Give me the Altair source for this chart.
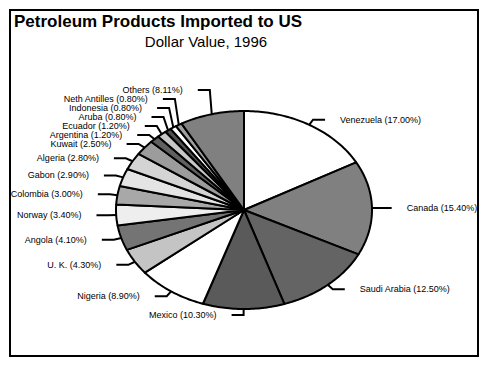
import altair as alt
import numpy as np
import pandas as pd

countries = ["Venezuela", "Canada", "Saudi Arabia", "Mexico", "Nigeria", "U. K.",
             "Angola", "Norway", "Colombia", "Gabon", "Algeria", "Kuwait",
             "Argentina", "Ecuador", "Aruba", "Indonesia", "Neth Antilles", "Others"]
shares = [17.00, 15.40, 12.50, 10.30, 8.90, 4.30, 4.10, 3.40, 3.00, 2.90, 2.80, 2.50,
          1.20, 1.20, 0.80, 0.80, 0.80, 8.11]
fills = ["#ffffff", "#808080", "#646464", "#5a5a5a", "#ffffff", "#c4c4c4",
         "#747474", "#eeeeee", "#a8a8a8", "#e4e4e4", "#d4d4d4", "#9c9c9c",
         "#606060", "#c8c8c8", "#505050", "#ffffff", "#a0a0a0", "#808080"]

title_text = "Petroleum Products Imported to US"
subtitle_text = "Dollar Value, 1996"

# layout constants (pixels)
W, H, PAD = 468, 346, 2
CX, CY = 234, 200          # pie centre in view pixels
RX, RY = 128, 99           # ellipse radii in pixels
GAP_PX = 9                 # min vertical gap between stacked labels
HSEG_PX = 12               # horizontal leader length
TGAP_PX = 15               # leader end -> text

xdom = [-CX / RX, (W - CX) / RX]
ydom = [-(H - CY) / RY, CY / RY]

vals = np.array(shares, dtype=float)
total = vals.sum()
cum = np.concatenate([[0], np.cumsum(vals)]) / total * 2 * np.pi

# slice polygons
rows = []
for i, name in enumerate(countries):
    a0, a1 = cum[i], cum[i + 1]
    n = max(3, int(np.degrees(a1 - a0)) + 1)
    k = 0
    rows.append({"slice": name, "k": k, "x": 0.0, "y": 0.0}); k += 1
    for a in np.linspace(a0, a1, n):
        rows.append({"slice": name, "k": k, "x": np.sin(a), "y": np.cos(a)}); k += 1
    rows.append({"slice": name, "k": k, "x": 0.0, "y": 0.0})
poly = pd.DataFrame(rows)

# label layout
mid = (cum[:-1] + cum[1:]) / 2
side = np.where(np.sin(mid) < 0, "L", "R")
ly = 1.06 * np.cos(mid)
gap = GAP_PX / RY
for s in ["L", "R"]:
    idx = [i for i in range(len(countries)) if side[i] == s]
    idx.sort(key=lambda i: ly[i])
    prev = None
    for i in idx:
        if prev is not None and ly[i] < prev + gap:
            ly[i] = prev + gap
        prev = ly[i]

lead_rows, text_rows = [], []
for i, name in enumerate(countries):
    ex, ey = np.sin(mid[i]), np.cos(mid[i])
    bx = 1.06 * ex
    sgn = -1 if side[i] == "L" else 1
    hx = bx + sgn * HSEG_PX / RX
    lead_rows += [{"slice": name, "k": 0, "x": ex, "y": ey},
                  {"slice": name, "k": 1, "x": bx, "y": ly[i]},
                  {"slice": name, "k": 2, "x": hx, "y": ly[i]}]
    text_rows.append({"label": f"{name} ({shares[i]:.2f}%)",
                      "x": hx + sgn * TGAP_PX / RX, "y": ly[i], "side": side[i]})
leads = pd.DataFrame(lead_rows)
texts = pd.DataFrame(text_rows)

xs = alt.Scale(domain=xdom, nice=False, zero=False)
ys = alt.Scale(domain=ydom, nice=False, zero=False)

pie = alt.Chart(poly).mark_line(stroke="black", strokeWidth=2, strokeJoin="round").encode(
    x=alt.X("x:Q", scale=xs, axis=None),
    y=alt.Y("y:Q", scale=ys, axis=None),
    detail="slice:N",
    order=alt.Order("k:Q"),
    fill=alt.Fill("slice:N", scale=alt.Scale(domain=countries, range=fills), legend=None),
)

leader = alt.Chart(leads).mark_line(stroke="black", strokeWidth=2).encode(
    x=alt.X("x:Q", scale=xs, axis=None),
    y=alt.Y("y:Q", scale=ys, axis=None),
    detail="slice:N",
    order=alt.Order("k:Q"),
)

def label_layer(s, align):
    return alt.Chart(texts).transform_filter(alt.datum.side == s).mark_text(
        align=align, baseline="middle", fontSize=9, font="Liberation Sans", color="black"
    ).encode(
        x=alt.X("x:Q", scale=xs, axis=None),
        y=alt.Y("y:Q", scale=ys, axis=None),
        text="label:N",
    )

title = alt.Chart(pd.DataFrame({"t": [title_text]})).mark_text(
    align="left", baseline="alphabetic", fontSize=17, fontWeight="bold",
    font="Liberation Sans", color="black"
).encode(x=alt.value(4), y=alt.value(17), text="t:N")

subtitle = alt.Chart(pd.DataFrame({"t": [subtitle_text]})).mark_text(
    align="center", baseline="alphabetic", fontSize=15, font="Liberation Sans", color="black"
).encode(x=alt.value(196), y=alt.value(37), text="t:N")

chart = alt.layer(pie, leader, label_layer("L", "right"), label_layer("R", "left"),
                  title, subtitle).properties(
    width=W, height=H, padding=PAD, autosize=alt.AutoSizeParams(type="none"),
    background="white"
).configure_view(stroke="black", strokeWidth=2)

chart.save("out.html", embed_options={"renderer": "svg", "actions": False})
